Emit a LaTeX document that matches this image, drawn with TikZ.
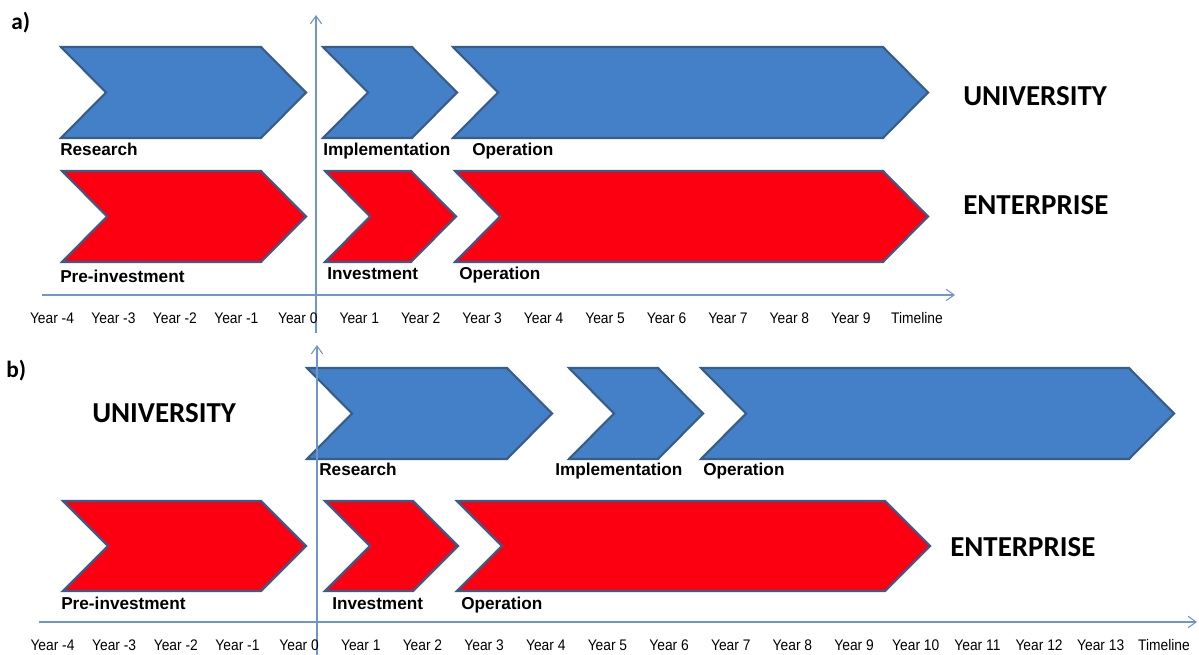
\documentclass[tikz,border=0pt]{standalone}
\usepackage{fontspec}
\setmainfont{Liberation Sans}
\newfontfamily\yearfont[FakeStretch=0.9]{Liberation Sans}
\newfontfamily\capsfont{Carlito}
\usetikzlibrary{arrows.meta}
\definecolor{unifill}{RGB}{67,128,200}
\definecolor{entfill}{RGB}{252,0,18}
\definecolor{edgeblue}{RGB}{56,93,138}
\definecolor{axisblue}{RGB}{110,150,205}
\newcommand{\chevbox}[5][]{%
  \draw[#1] (#2,#4) -- ({#3-45},#4) -- (#3,{(#4+#5)/2}) -- ({#3-45},#5)
    -- (#2,#5) -- ({#2+45},{(#4+#5)/2}) -- cycle;}

\begin{document}
\begin{tikzpicture}[x=0.75pt,y=-0.75pt,>={Straight Barb[length=6pt,width=8.5pt]},
   uni/.style={fill=unifill,draw=edgeblue,line width=1.6pt},
   ent/.style={fill=entfill,draw=edgeblue,line width=1.6pt},
   axis/.style={draw=axisblue,line width=0.8pt},
   lbl/.style={anchor=base west,inner sep=0pt,font=\bfseries\fontsize{12.9}{14}\selectfont},
   actor/.style={anchor=base west,inner sep=0pt,font=\capsfont\bfseries\fontsize{21.7}{24}\selectfont},
   yr/.style={anchor=base,inner sep=0pt,font=\yearfont\fontsize{11.5}{12}\selectfont},
   panel/.style={anchor=base west,inner sep=0pt,font=\capsfont\bfseries\fontsize{17.5}{20}\selectfont}]
   \useasboundingbox (0,0) rectangle (1199,655);

   \chevbox[uni]{61}{306}{47}{138}
   \chevbox[uni]{323}{457}{47}{138}
   \chevbox[uni]{453}{928}{47}{138}
   \chevbox[ent]{62}{306}{171}{262}
   \chevbox[ent]{325}{456}{171}{262}
   \chevbox[ent]{455}{928}{171}{262}

   \chevbox[uni]{307}{552}{368}{459}
   \chevbox[uni]{569}{703}{368}{459}
   \chevbox[uni]{701}{1174}{368}{459}
   \chevbox[ent]{63}{306}{501}{591}
   \chevbox[ent]{325}{458}{501}{591}
   \chevbox[ent]{457}{930}{501}{591}

   \coordinate (ha0) at (42,295);
   \coordinate (ha1) at (955,295);
   \coordinate (va0) at (316,333);
   \coordinate (va1) at (316,15);
   \coordinate (hb0) at (39,622);
   \coordinate (hb1) at (1197,622);
   \coordinate (vb0) at (317,655);
   \coordinate (vb1) at (317,345);

   \draw [axis,->] (ha0) -- (ha1);
   \draw [axis,->] (va0) -- (va1);
   \draw [axis,->] (hb0) -- (hb1);
   \draw [axis,->] (vb0) -- (vb1);

   \node[panel] (pa) at (11,30) {a)};
   \node[panel] (pb) at (6,378) {b)};

   \node[lbl] (resa) at (60,156) {Research};
   \node[lbl] (impa) at (323,156) {Implementation};
   \node[lbl] (opua) at (472,156) {Operation};
   \node[lbl] (prea) at (60,283) {Pre-investment};
   \node[lbl] (inva) at (327,280) {Investment};
   \node[lbl] (opea) at (459,280) {Operation};
   \node[actor] (unia) at (963,106) {UNIVERSITY};
   \node[actor] (enta) at (963,215) {ENTERPRISE};

   \node[actor] (unib) at (92,423) {UNIVERSITY};
   \node[lbl] (resb) at (319,476) {Research};
   \node[lbl] (impb) at (555,476) {Implementation};
   \node[lbl] (opub) at (703,476) {Operation};
   \node[lbl] (preb) at (61,609) {Pre-investment};
   \node[lbl] (invb) at (332,609) {Investment};
   \node[lbl] (opeb) at (461,609) {Operation};
   \node[actor] (entb) at (950,556) {ENTERPRISE};

   \foreach \k in {-4,...,9}
      \node[yr] (yra\k) at ({52+61.45*(\k+4)},324) {Year \k};
   \node[yr] (tla) at (917,324) {Timeline};
   \foreach \k in {-4,...,13}
      \node[yr] (yrb\k) at ({52.5+61.66*(\k+4)},650.5) {Year \k};
   \node[yr] (tlb) at (1164,650.5) {Timeline};
\end{tikzpicture}
\end{document}
